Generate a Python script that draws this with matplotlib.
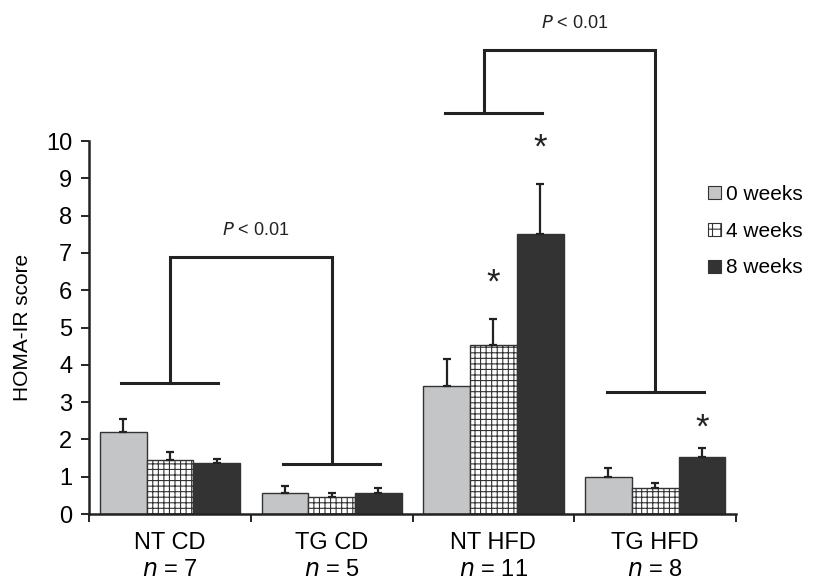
import numpy as np
import matplotlib.pyplot as plt
from matplotlib.patches import Patch

plt.rcParams['font.family'] = ['Liberation Sans', 'DejaVu Sans']
plt.rcParams['hatch.linewidth'] = 0.8

# Data
groups = ['NT CD', 'TG CD', 'NT HFD', 'TG HFD']
n_vals = [7, 5, 11, 8]
series = ['0 weeks', '4 weeks', '8 weeks']
means = {
    '0 weeks': [2.20, 0.56, 3.42, 0.99],
    '4 weeks': [1.44, 0.45, 4.52, 0.69],
    '8 weeks': [1.38, 0.57, 7.50, 1.52],
}
sems = {
    '0 weeks': [0.35, 0.19, 0.73, 0.24],
    '4 weeks': [0.23, 0.12, 0.72, 0.14],
    '8 weeks': [0.10, 0.14, 1.36, 0.26],
}
# significance stars: (group index, series index, y)
stars = [(2, 1, 6.2), (2, 2, 9.8), (3, 2, 2.3)]
# brackets: (left group, right group, left y, right y, top y, text y)
brackets = [(0, 1, 3.51, 1.34, 6.9, 7.6), (1.94, 3, 10.74, 3.27, 12.45, 13.15)]

colors = ['#c4c5c7', 'white', '#333333']
hatches = [None, '+++', None]

fig = plt.figure(figsize=(8.18, 5.82), dpi=100)
ax = fig.add_axes([0.1088, 0.1168, 0.791, 0.6409])

x = np.arange(len(groups))
w = 0.289
for i, s in enumerate(series):
    xs = x + (i - 1) * w
    ax.bar(xs, means[s], width=w, color=colors[i], edgecolor='#333333',
           linewidth=1.0, hatch=hatches[i], label=s, zorder=2)
    ax.errorbar(xs, means[s], yerr=[np.zeros(4), sems[s]], fmt='none',
                ecolor='#222222', elinewidth=1.6, capsize=3, capthick=1.6,
                zorder=3)

for g, si, y in stars:
    ax.text(g + (si - 1) * w, y, '*', ha='center', va='center',
            fontsize=25, color='#222222')

lw = 2.2
half = 0.3
for gl, gr, yl, yr, yt, ty in brackets:
    ax.plot([round(gl) - half, round(gl) + half], [yl, yl], color='#222222', lw=lw, clip_on=False)
    ax.plot([gr - half, gr + half], [yr, yr], color='#222222', lw=lw, clip_on=False)
    ax.plot([gl, gl, gr, gr], [yl, yt, yt, yr], color='#222222', lw=lw,
            clip_on=False, solid_joinstyle='miter')
    ax.text((gl + gr) / 2 + 0.03, ty, '$P$ < 0.01', ha='center', va='center',
            fontsize=13, color='#222222')

ax.set_xlim(-0.5, 3.5)
ax.set_ylim(0, 10)
ax.set_yticks(range(0, 11))
ax.set_xticks(np.arange(-0.5, 4, 1))
ax.set_xticklabels([])
ax.tick_params(axis='y', labelsize=17, length=6, width=1.2, direction='out', pad=6)
ax.tick_params(axis='x', length=6, width=1.2, direction='out')
for sp in ['top', 'right']:
    ax.spines[sp].set_visible(False)
for sp in ['left', 'bottom']:
    ax.spines[sp].set_linewidth(1.8)
    ax.spines[sp].set_color('#222222')
ax.set_ylabel('HOMA-IR score', fontsize=15, labelpad=10)

for i, (g, n) in enumerate(zip(groups, n_vals)):
    ax.annotate(g, xy=(i, 0), xycoords='data', xytext=(0, -29),
                textcoords='offset pixels', ha='center', va='center', fontsize=17)
    ax.annotate('$n$ = %d' % n, xy=(i, 0), xycoords='data', xytext=(0, -56),
                textcoords='offset pixels', ha='center', va='center', fontsize=17)

handles = [Patch(facecolor=colors[i], edgecolor='#333333', hatch=hatches[i] and '++',
                 linewidth=0.8) for i in range(3)]
fig.legend(handles, series, loc='upper left', bbox_to_anchor=(0.866, 0.682),
           frameon=False, fontsize=15, handlelength=0.6, handleheight=0.6,
           handletextpad=0.25, labelspacing=0.85, borderpad=0, borderaxespad=0)

fig.savefig('out.png', dpi=100)
